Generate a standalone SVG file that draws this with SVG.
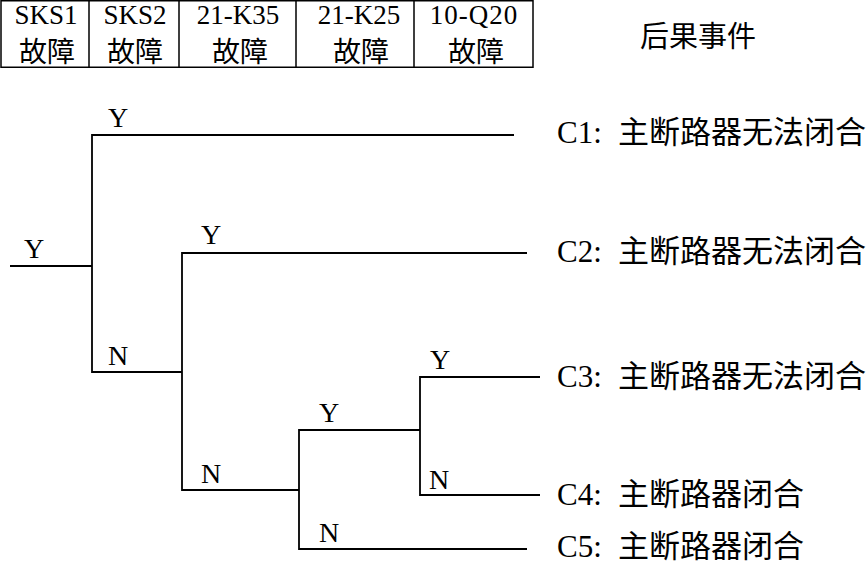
<svg xmlns="http://www.w3.org/2000/svg" width="867" height="566" viewBox="0 0 867 566">
<style>
.lat{font-family:"Liberation Serif","Noto Sans CJK SC",serif;fill:#000}
.cjk{font-family:"Noto Sans CJK SC","Liberation Serif",sans-serif;fill:#000}
.th{font-size:27px;text-anchor:middle}
.tc{font-size:28px;text-anchor:middle}
.br{font-size:28px;text-anchor:middle}
.ev{font-size:31px}
.cell{fill:none;stroke:#000;stroke-width:1.5}
.ln{fill:none;stroke:#000;stroke-width:1.8}
</style>
<rect width="867" height="566" fill="#fff"/>
<g id="table">
  <rect class="cell" x="1" y="0.75" width="532" height="66.5"/>
  <path class="cell" d="M89,0V67M179,0V67M296,0V67M414,0V67"/>
  <g id="col-sks1"><text class="lat th" x="46" y="24">SKS1</text><text class="cjk tc" x="47" y="62">故障</text></g>
  <g id="col-sks2"><text class="lat th" x="135" y="24">SKS2</text><text class="cjk tc" x="135" y="62">故障</text></g>
  <g id="col-k35"><text class="lat th" x="238" y="24">21-K35</text><text class="cjk tc" x="240" y="62">故障</text></g>
  <g id="col-k25"><text class="lat th" x="359" y="24">21-K25</text><text class="cjk tc" x="361" y="62">故障</text></g>
  <g id="col-q20"><text class="lat th" x="474" y="24" letter-spacing="1">10-Q20</text><text class="cjk tc" x="476" y="62">故障</text></g>
</g>
<g id="header"><text class="cjk" x="640" y="47" font-size="29">后果事件</text></g>
<g id="connectors">
  <path class="ln" d="M10,266H92"/>
  <path class="ln" d="M514,135H92V372H182"/>
  <path class="ln" d="M527,253H182V490H299"/>
  <path class="ln" d="M420,430H299V549H527"/>
  <path class="ln" d="M540,377H420V495H540"/>
</g>
<g id="branch-labels">
  <text class="lat br" x="34" y="258">Y</text>
  <text class="lat br" x="118" y="127">Y</text>
  <text class="lat br" x="118" y="365">N</text>
  <text class="lat br" x="211" y="244">Y</text>
  <text class="lat br" x="211" y="483">N</text>
  <text class="lat br" x="329" y="422">Y</text>
  <text class="lat br" x="329" y="542">N</text>
  <text class="lat br" x="440" y="369">Y</text>
  <text class="lat br" x="439" y="489">N</text>
</g>
<g id="event-c1"><text class="lat ev" x="557" y="143">C1:<tspan class="cjk" x="618">主断路器无法闭合</tspan></text></g>
<g id="event-c2"><text class="lat ev" x="557" y="262">C2:<tspan class="cjk" x="618">主断路器无法闭合</tspan></text></g>
<g id="event-c3"><text class="lat ev" x="557" y="387">C3:<tspan class="cjk" x="618">主断路器无法闭合</tspan></text></g>
<g id="event-c4"><text class="lat ev" x="557" y="505">C4:<tspan class="cjk" x="618">主断路器闭合</tspan></text></g>
<g id="event-c5"><text class="lat ev" x="557" y="557">C5:<tspan class="cjk" x="618">主断路器闭合</tspan></text></g>
</svg>
